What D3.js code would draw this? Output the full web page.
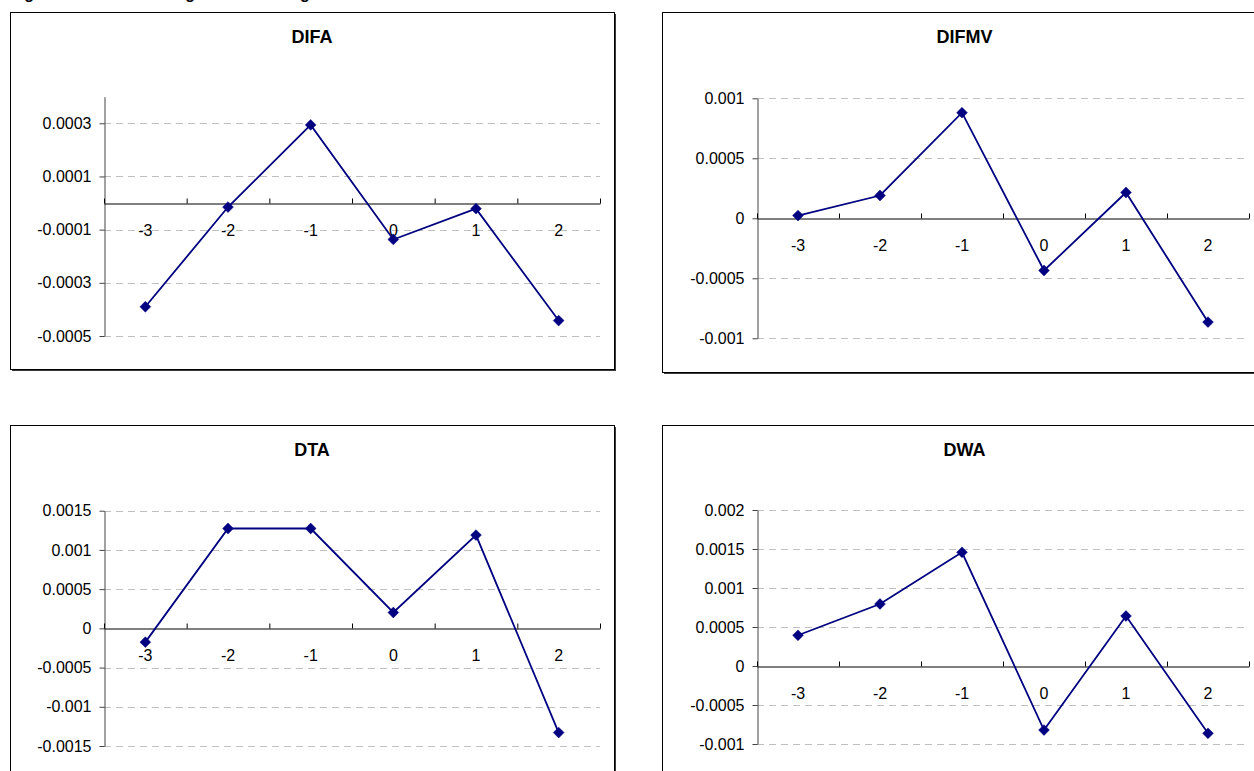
<!DOCTYPE html>
<html>
<head>
<meta charset="utf-8">
<script src="https://cdn.jsdelivr.net/npm/d3@7"></script>
<style>
  html, body { margin: 0; padding: 0; background: #fff; }
  svg { display: block; font-family: "Liberation Sans", Arial, sans-serif; }
</style>
</head>
<body>
<svg id="chart" width="1254" height="771"></svg>
<script>
// ---- data ----
const categories = ["-3", "-2", "-1", "0", "1", "2"];
const difaValues  = [-0.00039, -0.000015, 0.000294, -0.000137, -0.000021, -0.000442];
const difmvValues = [0.000023, 0.00019, 0.00088, -0.000435, 0.000215, -0.000865];
const dtaValues   = [-0.000176, 0.001273, 0.001273, 0.000202, 0.001189, -0.001329];
const dwaValues   = [0.000394, 0.000795, 0.001458, -0.000821, 0.000641, -0.000863];

const difaTicks  = [-0.0005, -0.0003, -0.0001, 0.0001, 0.0003];
const difmvTicks = [-0.001, -0.0005, 0, 0.0005, 0.001];
const dtaTicks   = [-0.0015, -0.001, -0.0005, 0, 0.0005, 0.001, 0.0015];
const dwaTicks   = [-0.001, -0.0005, 0, 0.0005, 0.001, 0.0015, 0.002];

const difaDomain  = [-0.0005, 0.0004];
const difmvDomain = [-0.001, 0.001];
const dtaDomain   = [-0.0015, 0.0015];
const dwaDomain   = [-0.001, 0.002];

const captionText = "Figure 3. Market Trading Around Changes";

// ---- layout ----
const panels = [
  { title: "DIFA",  values: difaValues,  ticks: difaTicks,  domain: difaDomain,
    box: [10, 12, 604, 357],  xr: [104, 600], yr: [336, 96.7] },
  { title: "DIFMV", values: difmvValues, ticks: difmvTicks, domain: difmvDomain,
    box: [662, 12, 605, 360], xr: [757, 1249], yr: [338.3, 98.3] },
  { title: "DTA",   values: dtaValues,   ticks: dtaTicks,   domain: dtaDomain,
    box: [10, 425, 604, 360], xr: [104, 600], yr: [746, 510.7] },
  { title: "DWA",   values: dwaValues,   ticks: dwaTicks,   domain: dwaDomain,
    box: [662, 425, 605, 360], xr: [757, 1249], yr: [744, 510] }
];

const svg = d3.select("#chart");
const navy = "#000080";

// caption (mostly above the visible area, as in the reference)
svg.append("text")
  .attr("x", 10).attr("y", -1)
  .attr("font-size", 16).attr("font-weight", "bold")
  .text(captionText);

panels.forEach(p => {
  const g = svg.append("g");
  const [bx, by, bw, bh] = p.box;
  // shadow + frame
  g.append("rect").attr("x", bx + 2).attr("y", by + 2).attr("width", bw).attr("height", bh)
    .attr("fill", "#3a3a3a");
  g.append("rect").attr("x", bx + 0.5).attr("y", by + 0.5).attr("width", bw).attr("height", bh)
    .attr("fill", "#fff").attr("stroke", "#000").attr("stroke-width", 1);

  // title
  g.append("text")
    .attr("x", bx + bw / 2).attr("y", by + 31)
    .attr("text-anchor", "middle")
    .attr("font-size", 18).attr("font-weight", "bold")
    .text(p.title);

  const y = d3.scaleLinear().domain(p.domain).range(p.yr);
  const xb = d3.scaleBand().domain(categories).range(p.xr).padding(0);
  const xl = d3.scaleLinear().domain([0, categories.length]).range(p.xr);

  // gridlines
  g.append("g").selectAll("line")
    .data(p.ticks.filter(t => t !== 0))
    .join("line")
    .attr("x1", p.xr[0]).attr("x2", p.xr[1])
    .attr("y1", d => Math.round(y(d)) + 0.5).attr("y2", d => Math.round(y(d)) + 0.5)
    .attr("stroke", "#c0c0c0").attr("stroke-width", 1)
    .attr("stroke-dasharray", "7,5");

  // y axis
  const yAxis = d3.axisLeft(y).tickValues(p.ticks).tickSize(5).tickSizeOuter(0)
    .tickFormat(d => String(d));
  const ya = g.append("g")
    .attr("transform", `translate(${p.xr[0] + 0.5},0)`)
    .call(yAxis);
  ya.select(".domain").attr("stroke", "#444");
  ya.selectAll(".tick line").attr("stroke", "#444");
  ya.selectAll(".tick text")
    .attr("font-size", 16).attr("fill", "#000")
    .attr("font-family", "\"Liberation Sans\", Arial, sans-serif")
    .attr("x", -13);

  // x axis at zero with upward ticks at category boundaries
  const y0 = Math.round(y(0)) + 0.5;
  const xAxis = d3.axisTop(xl).tickValues(d3.range(categories.length + 1))
    .tickSize(5).tickSizeOuter(0).tickFormat("");
  const xa = g.append("g").attr("transform", `translate(0,${y0})`).call(xAxis);
  xa.select(".domain").attr("stroke", "#000");
  xa.selectAll(".tick line").attr("stroke", "#000");

  // category labels
  g.append("g").selectAll("text")
    .data(categories)
    .join("text")
    .attr("x", d => xb(d) + xb.bandwidth() / 2)
    .attr("y", y0 + 32)
    .attr("text-anchor", "middle")
    .attr("font-size", 16)
    .text(d => d);

  // line
  const pts = categories.map((c, i) => [xb(c) + xb.bandwidth() / 2, y(p.values[i])]);
  g.append("path")
    .attr("d", d3.line()(pts))
    .attr("fill", "none").attr("stroke", navy).attr("stroke-width", 1.8);

  // markers
  g.append("g").selectAll("path")
    .data(pts)
    .join("path")
    .attr("d", d3.symbol(d3.symbolSquare, 58)())
    .attr("transform", d => `translate(${d[0]},${d[1]}) rotate(45)`)
    .attr("fill", navy).attr("stroke", navy).attr("stroke-width", 0.5);
});
</script>
</body>
</html>
